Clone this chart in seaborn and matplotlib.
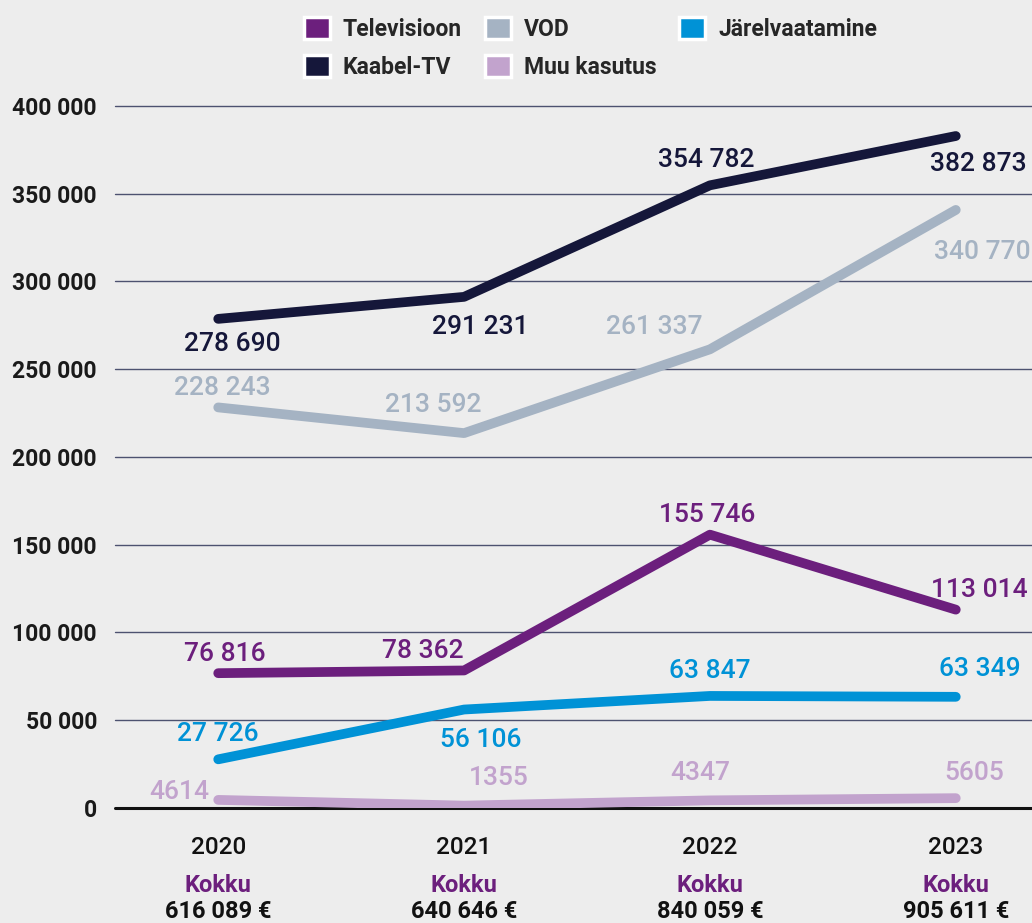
import matplotlib
matplotlib.use("Agg")
import matplotlib.pyplot as plt
import matplotlib.transforms as mtransforms
from matplotlib.patches import Patch
import seaborn as sns
import pandas as pd

years = ["2020", "2021", "2022", "2023"]
televisioon = [76816, 78362, 155746, 113014]
kaabel_tv = [278690, 291231, 354782, 382873]
vod = [228243, 213592, 261337, 340770]
muu_kasutus = [4614, 1355, 4347, 5605]
jarelvaatamine = [27726, 56106, 63847, 63349]
totals = ["616 089 €", "640 646 €", "840 059 €", "905 611 €"]
series_names = ["Televisioon", "Kaabel-TV", "VOD", "Muu kasutus", "Järelvaatamine"]
yticks = [0, 50000, 100000, 150000, 200000, 250000, 300000, 350000, 400000]

series_values = [televisioon, kaabel_tv, vod, muu_kasutus, jarelvaatamine]
colors = {"Televisioon": "#6c1f7d", "Kaabel-TV": "#15173a", "VOD": "#a5b3c3",
          "Muu kasutus": "#c2a3cd", "Järelvaatamine": "#0092d6"}

rows = []
for name, vals in zip(series_names, series_values):
    for i, v in enumerate(vals):
        rows.append({"x": i, "year": years[i], "value": v, "series": name})
df = pd.DataFrame(rows)

sns.set_theme(style="white")
bg = "#ededed"
plt.rcParams["font.family"] = ["Roboto", "DejaVu Sans"]

fig = plt.figure(figsize=(10.32, 9.23), dpi=100, facecolor=bg)
ax = fig.add_axes([0.1114, 0.1246, 0.8886, 0.7606])
ax.set_facecolor(bg)

draw_order = ["Muu kasutus", "Järelvaatamine", "Televisioon", "VOD", "Kaabel-TV"]
sns.lineplot(data=df, x="x", y="value", hue="series", hue_order=draw_order,
             palette=colors, linewidth=7, ax=ax, legend=False,
             solid_capstyle="round", solid_joinstyle="round", zorder=3)

ax.set_xlim(-0.42, 3.31)
ax.set_ylim(0, 400000)
ax.set_yticks(yticks)
ax.set_yticklabels([f"{t:,}".replace(",", " ") for t in yticks],
                   fontsize=16.5, fontweight="bold", color="#1a1a1a")
ax.yaxis.grid(True, color="#4d5270", linewidth=1.0, zorder=0)
ax.tick_params(axis="y", length=0, pad=13)
ax.set_xticks(range(len(years)))
ax.set_xticklabels(years, fontsize=17.5, color="#111111", fontweight="medium")
ax.tick_params(axis="x", length=0, pad=20)
for s in ax.spines.values():
    s.set_visible(False)
ax.axhline(0, color="#111111", linewidth=2.2, zorder=2, clip_on=False)
for line in ax.get_ygridlines():
    line.set_clip_on(False)
ax.set_xlabel("")
ax.set_ylabel("")

# data labels: (dx, dy) offsets in points
offsets = {
    "Televisioon": [(5, 14), (-30, 14), (-2, 14), (17, 14)],
    "Kaabel-TV": [(10, -18), (12, -22), (-3, 18), (16, -20)],
    "VOD": [(3, 14), (-22, 20), (-40, 16), (19, -30)],
    "Muu kasutus": [(-28, 6), (25, 20), (-7, 20), (13, 18)],
    "Järelvaatamine": [(0, 18), (12, -22), (0, 18), (17, 20)],
}
for name, vals in zip(series_names, series_values):
    for i, v in enumerate(vals):
        dx, dy = offsets[name][i]
        ax.annotate(f"{v:,}".replace(",", " ") if v >= 10000 else f"{v}",
                    xy=(i, v), xytext=(dx, dy), textcoords="offset points",
                    ha="center", va="center", fontsize=19, fontweight="medium",
                    color=colors[name], zorder=5, annotation_clip=False)

trans = mtransforms.blended_transform_factory(ax.transData, fig.transFigure)
for i, t in enumerate(totals):
    ax.text(i, 1 - 885 / 923, "Kokku", transform=trans, ha="center", va="center",
            fontsize=17, fontweight="bold", color="#6c1f7d")
    ax.text(i, 1 - 912 / 923, t, transform=trans, ha="center", va="center",
            fontsize=17, fontweight="bold", color="#111111")

handles = [Patch(facecolor=colors[n], edgecolor="white", linewidth=2.5, label=n)
           for n in series_names]
leg = fig.legend(handles=handles, ncol=3, loc="upper left",
                 bbox_to_anchor=(283 / 1032, 1 + 4 / 923), frameon=False,
                 prop={"family": "Roboto", "weight": "bold", "size": 16.5},
                 handlelength=1.15, handleheight=1.15, handletextpad=0.55,
                 columnspacing=1.0, labelspacing=0.6)

fig.savefig("out.png", dpi=100, facecolor=bg)
